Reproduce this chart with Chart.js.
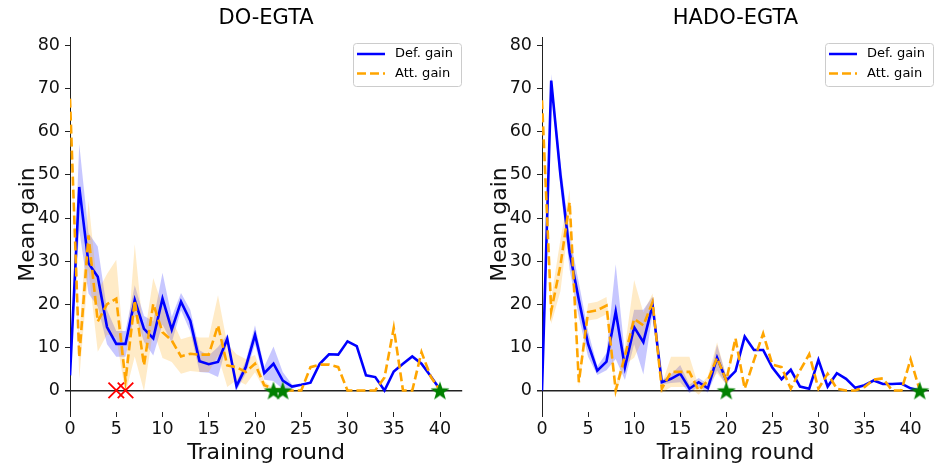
<!DOCTYPE html>
<html>
<head>
<meta charset="utf-8">
<script src="https://cdn.jsdelivr.net/npm/chart.js@4.4.1/dist/chart.umd.min.js"></script>
<style>
  html, body { margin: 0; padding: 0; background: #fff; }
  body { width: 940px; height: 466px; position: relative; overflow: hidden; }
  canvas { position: absolute; top: 0; }
  #doChart { left: 0; }
  #hadoChart { left: 472px; }
</style>
</head>
<body>
<canvas id="doChart" width="475" height="466"></canvas>
<canvas id="hadoChart" width="468" height="466"></canvas>
<script>
// values
const xTicks = [0, 5, 10, 15, 20, 25, 30, 35, 40];
const yTicks = [0, 10, 20, 30, 40, 50, 60, 70, 80];

const doDef = [3.5, 47.2, 29.5, 26.4, 14.7, 10.8, 10.8, 21, 14.3, 12.1, 21.3, 14.1, 20.6, 16.2, 6.8, 6.1, 6.6, 12.0, 1.0, 5.4,
  12.9, 4.0, 6.2, 2.3, 0.9, 1.3, 1.8, 6.2, 8.4, 8.3, 11.4, 10.3, 3.5, 3.1, 0, 4.4, 6.2, 7.9, 6.2, 3.3, 0.2];
const doDefErr = [0, 10, 7, 7, 4, 3, 3, 3.4, 3, 4, 6, 3, 2, 2.5, 2.5, 2, 3.5, 1, 1, 1.5,
  2.2, 1.5, 4, 2, 0.5, 0, 0, 0, 0, 0, 0, 0, 0, 0, 0, 0, 0, 0, 0, 0, 0];
const doAtt = [67.7, 7.7, 36, 16, 20, 21.3, 2.3, 20.9, 5.8, 20.1, 13.5, 11.6, 7.9, 8.5, 8.3, 8.3, 15.1, 5.8, 5.4, 4.3,
  6.2, 1.2, 0.4, 0, 0, 0, 5.4, 6, 6, 5.4, 0, 0, 0, 0, 3, 14.5, 0, 0, 8.9, 3.2, 0];
const doAttErr = [0, 5, 8, 7, 7, 9, 3, 13, 6, 6, 6, 5, 4, 4, 4, 4, 7, 5, 3, 3,
  2, 1, 0, 0, 0, 0, 0, 0, 0, 0, 0, 0, 0, 0, 0, 0, 0, 0, 0, 0, 0];
const doStars = [22, 23, 40];
const doCrosses = [5, 6];

const hadoDef = [0, 71.9, 50, 32, 21, 10.8, 4.6, 6.7, 18.3, 5.4, 14.7, 11.2, 19.8, 1.9, 2.7, 3.9, 0.4, 1.9, 0.5, 7.6,
  2.3, 4.5, 12.5, 9.4, 9.4, 5.3, 2.6, 4.8, 0.9, 0.4, 7.1, 0.9, 4.0, 2.7, 0.6, 1.2, 2.3, 1.5, 1.5, 1.6, 0.5, 0];
const hadoDefErr = [0, 1.5, 3, 4, 4, 3, 1, 2, 11, 3, 4, 7.5, 2, 0.5, 1, 2, 1, 1, 1, 3,
  1, 0, 0, 0, 0, 0, 0, 0, 0, 0, 0, 0, 0, 0, 0, 0, 0, 0, 0, 0, 0, 0];
const hadoAtt = [67.3, 18.4, 29, 43.7, 1.9, 18.2, 18.6, 19.7, 0, 8, 16.6, 15.1, 20.5, 0.4, 4.3, 4.3, 4.3, 0, 2.3, 7.6,
  2.3, 12.1, 0.4, 7, 13.2, 6, 5.4, 0.4, 4.6, 8.4, 0.4, 3.9, 0.4, 0, 0, 0.8, 2.5, 2.8, 0, 0, 7.2, 0];
const hadoAttErr = [0, 3, 6, 3, 1, 2, 2, 2, 1, 2, 9, 3, 2, 1, 3.5, 3.5, 3.5, 1, 1, 3.6,
  1, 0, 0, 0, 0, 0, 0, 0, 0, 0, 0, 0, 0, 0, 0, 0, 0, 0, 0, 0, 0, 0];
const hadoStars = [20, 41];
const hadoCrosses = [];

const FONT = "'DejaVu Sans', sans-serif";
const BLUE = "#0000ff";
const ORANGE = "#ffa500";

// filled five point star for the green markers
function makeStar(size, color) {
    const c = document.createElement("canvas");
    c.width = size;
    c.height = size;
    const g = c.getContext("2d");
    const r = size / 2, ri = r * 0.4;
    g.beginPath();
    for (let i = 0; i < 10; i++) {
        const rad = i % 2 === 0 ? r : ri;
        const a = -Math.PI / 2 + i * Math.PI / 5;
        const px = r + rad * Math.cos(a), py = r + 1 + rad * Math.sin(a);
        if (i === 0) g.moveTo(px, py); else g.lineTo(px, py);
    }
    g.closePath();
    g.fillStyle = color;
    g.fill();
    return c;
}
const starImg = makeStar(20, "#008000");

const points = (vals) => vals.map((v, i) => ({ x: i, y: v }));
const shifted = (vals, err, sign) => vals.map((v, i) => ({ x: i, y: v + sign * err[i] }));
const onZero = (xs) => xs.map(x => ({ x: x, y: 0 }));

const titlePlugin = {
    id: "plotTitle",
    afterDraw(chart) {
        const { ctx, chartArea } = chart;
        ctx.save();
        ctx.font = "21px " + FONT;
        ctx.fillStyle = "#000";
        ctx.textAlign = "center";
        ctx.textBaseline = "middle";
        ctx.fillText(chart.options.plugins.plotTitle.text, (chartArea.left + chartArea.right) / 2, 19);
        ctx.restore();
    }
};

const legendPlugin = {
    id: "boxLegend",
    afterDraw(chart) {
        const { ctx } = chart;
        const x = 353, y = 43, w = 108, h = 43;
        ctx.save();
        ctx.beginPath();
        ctx.roundRect(x + 0.5, y + 0.5, w, h, 3);
        ctx.fillStyle = "rgba(255,255,255,0.8)";
        ctx.fill();
        ctx.strokeStyle = "#cccccc";
        ctx.lineWidth = 1;
        ctx.stroke();

        const items = chart.data.datasets.filter(d => d.label);
        items.forEach((d, i) => {
            const ly = y + 11 + i * 19.5;
            ctx.beginPath();
            ctx.setLineDash(d.borderDash || []);
            ctx.strokeStyle = d.borderColor;
            ctx.lineWidth = 2.5;
            ctx.moveTo(x + 4, ly);
            ctx.lineTo(x + 32, ly);
            ctx.stroke();
            ctx.setLineDash([]);
            ctx.font = "13px " + FONT;
            ctx.fillStyle = "#000";
            ctx.textBaseline = "middle";
            ctx.fillText(d.label, x + 42, ly);
        });
        ctx.restore();
    }
};

function makeChart(id, title, def, defErr, att, attErr, stars, crosses, xMax, padRight) {
    const ctx = document.getElementById(id).getContext("2d");
    return new Chart(ctx, {
        type: "line",
        data: {
            datasets: [
                { data: onZero(stars), showLine: false, pointStyle: starImg, pointRadius: 10, clip: false, order: 0 },
                { data: onZero(crosses), showLine: false, pointStyle: "crossRot", pointRadius: 11,
                  pointBorderColor: "#ff0000", pointBorderWidth: 1.8, clip: false, order: 0 },
                { label: "Def. gain", data: points(def), borderColor: BLUE, borderWidth: 2.6,
                  pointRadius: 0, tension: 0, order: 2 },
                { label: "Att. gain", data: points(att), borderColor: ORANGE, borderWidth: 2.6,
                  borderDash: [9, 4], pointRadius: 0, tension: 0, order: 1 },
                { data: shifted(def, defErr, 1), borderWidth: 0, borderColor: "rgba(0,0,0,0)",
                  pointRadius: 0, fill: false, order: 4 },
                { data: shifted(def, defErr, -1), borderWidth: 0, borderColor: "rgba(0,0,0,0)",
                  pointRadius: 0, fill: "-1", backgroundColor: "rgba(0,0,255,0.22)", order: 4 },
                { data: shifted(att, attErr, 1), borderWidth: 0, borderColor: "rgba(0,0,0,0)",
                  pointRadius: 0, fill: false, order: 3 },
                { data: shifted(att, attErr, -1), borderWidth: 0, borderColor: "rgba(0,0,0,0)",
                  pointRadius: 0, fill: "-1", backgroundColor: "rgba(255,165,0,0.22)", order: 3 }
            ]
        },
        options: {
            responsive: false,
            animation: false,
            layout: { padding: { top: 37, right: padRight, left: 0, bottom: 0 } },
            plugins: {
                legend: { display: false },
                tooltip: { enabled: false },
                plotTitle: { text: title }
            },
            scales: {
                x: {
                    type: "linear",
                    min: 0,
                    max: xMax,
                    afterBuildTicks: (scale) => { scale.ticks = xTicks.map(v => ({ value: v })); },
                    afterFit: (scale) => { scale.height = 54; },
                    border: { display: false },
                    grid: { drawOnChartArea: false, drawTicks: true, tickLength: 5, tickColor: "#222", tickWidth: 1 },
                    ticks: { font: { family: FONT, size: 17.5 }, color: "#111", padding: 2, maxRotation: 0 },
                    title: { display: true, text: "Training round", font: { family: FONT, size: 22 },
                             color: "#111", padding: { top: 0, bottom: 0 } }
                },
                y: {
                    type: "linear",
                    min: -5,
                    max: 82,
                    afterBuildTicks: (scale) => { scale.ticks = yTicks.map(v => ({ value: v })); },
                    afterFit: (scale) => { scale.width = 70; },
                    border: { display: true, color: "#222", width: 1 },
                    grid: {
                        color: (c) => c.tick && c.tick.value === 0 ? "#222" : "rgba(0,0,0,0)",
                        lineWidth: (c) => c.tick && c.tick.value === 0 ? 1.5 : 1,
                        tickColor: "#222",
                        tickLength: 5,
                        drawTicks: true
                    },
                    ticks: { font: { family: FONT, size: 17.5 }, color: "#111", padding: 5 },
                    title: { display: true, text: "Mean gain", font: { family: FONT, size: 22 },
                             color: "#111", padding: { top: 15, bottom: 0 } }
                }
            }
        },
        plugins: [titlePlugin, legendPlugin]
    });
}

makeChart("doChart", "DO-EGTA", doDef, doDefErr, doAtt, doAttErr, doStars, doCrosses, 42.4, 4);
makeChart("hadoChart", "HADO-EGTA", hadoDef, hadoDefErr, hadoAtt, hadoAttErr, hadoStars, hadoCrosses, 42, 0);
</script>
</body>
</html>
